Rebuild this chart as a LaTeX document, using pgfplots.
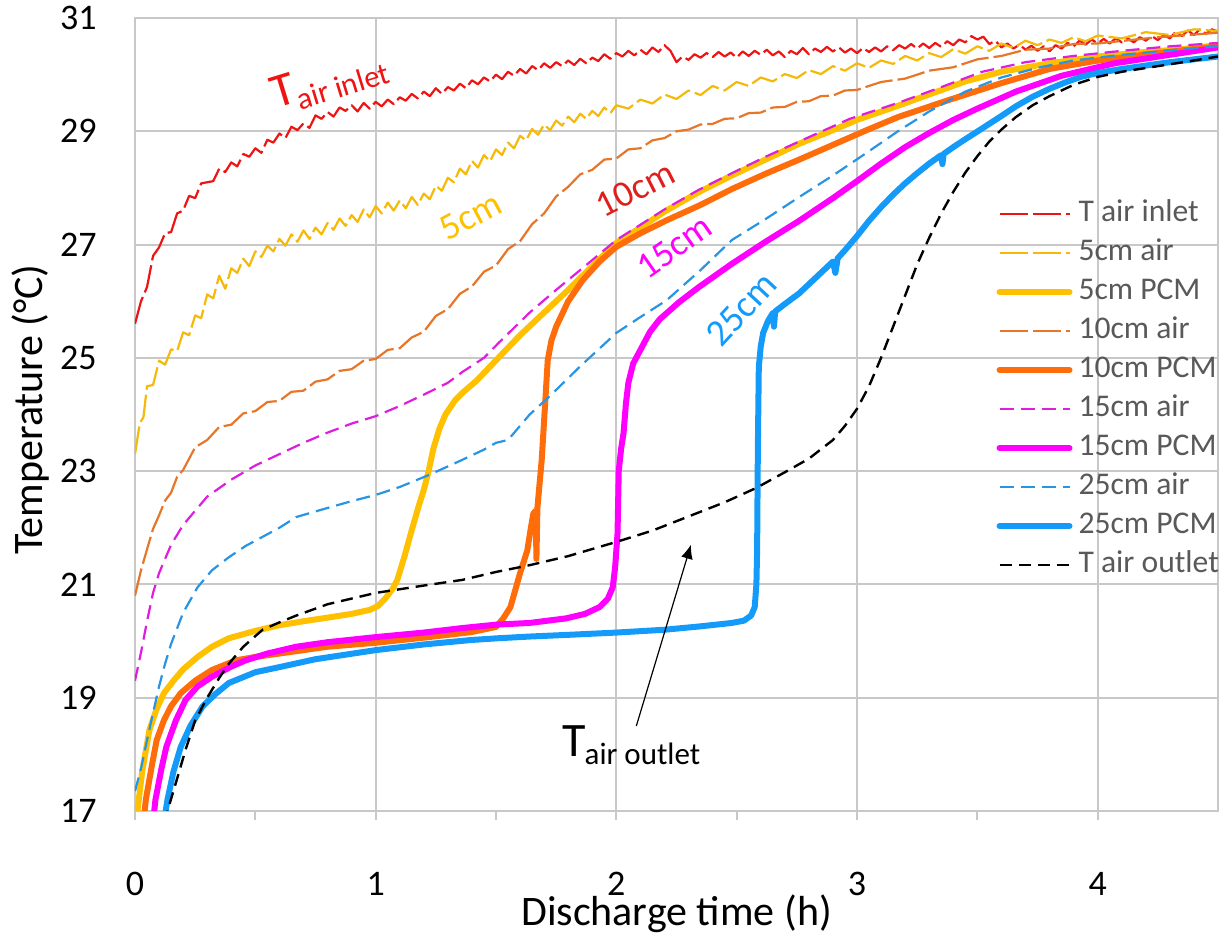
\documentclass[border=0pt]{standalone}
\usepackage{fontspec}
\setmainfont{Carlito}
\usepackage{pgfplots}
\pgfplotsset{compat=1.18}
\usetikzlibrary{arrows.meta}

\definecolor{gridgray}{RGB}{200,200,200}
\definecolor{inletred}{RGB}{238,20,20}
\definecolor{goldair}{RGB}{245,185,10}
\definecolor{goldpcm}{RGB}{255,192,0}
\definecolor{orair}{RGB}{232,118,40}
\definecolor{orpcm}{RGB}{255,108,10}
\definecolor{magair}{RGB}{222,30,222}
\definecolor{magpcm}{RGB}{255,0,255}
\definecolor{blueair}{RGB}{40,148,228}
\definecolor{bluepcm}{RGB}{20,155,250}
\definecolor{legendgray}{RGB}{89,89,89}
\definecolor{lbl10}{RGB}{224,30,28}

\begin{document}
\begin{tikzpicture}
\begin{axis}[
  name=ax,
  scale only axis,
  width=541.5pt, height=396.5pt,
  xmin=0, xmax=4.5, ymin=17, ymax=31,
  xtick={0,1,2,3,4}, minor xtick={0.5,1.5,2.5,3.5},
  ytick={17,19,...,31},
  xtick pos=bottom, ytick pos=left,
  grid=major,
  major grid style={draw=gridgray, line width=1pt},
  axis line style={draw=gridgray, line width=1pt},
  tick align=outside,
  major tick length=4.5pt, minor tick length=4.5pt,
  tick style={draw=gridgray, line width=1pt},
  ytick style={draw=none},
  /pgf/number format/assume math mode=true,
  ticklabel style={font=\fontsize{18}{20}\selectfont, text=black},
  xticklabel style={anchor=north, inner sep=0pt, yshift=-26pt},
  yticklabel style={anchor=east, inner sep=0pt, xshift=-14.5pt},
  xlabel={Discharge time (h)},
  ylabel={Temperature (°C)},
  label style={font=\fontsize{21}{24}\selectfont, text=black},
  xlabel style={at={(axis description cs:0.5,-0.130)}, anchor=center, inner sep=0pt},
  ylabel style={at={(axis description cs:-0.0965,0.506)}, anchor=center, inner sep=0pt},
  legend cell align=left,
  legend style={at={(axis description cs:0.7955,0.7705)}, anchor=north west,
    draw=none, fill=none, inner sep=0pt, outer sep=0pt,
    font=\fontsize{15.8}{16}\selectfont, text=legendgray,
    row sep=5.5pt, column sep=3pt,
    nodes={inner sep=0pt, text height=11pt, text depth=3pt}},
  legend image code/.code={\draw[#1] (0pt,0pt) -- (35pt,0pt);},
  airline/.style={line width=1.1pt, dash pattern=on 7pt off 3.5pt},
  noisyline/.style={line width=1.1pt, dash pattern=on 14pt off 2.5pt, line join=round},
  pcmline/.style={line width=3pt, line cap=round, line join=round},
]

% T air inlet
\addplot[noisyline, inletred] coordinates {
(0,25.60)(0.025,26.00)(0.05,26.25)(0.075,26.80)(0.1,26.95)(0.125,27.20)(0.15,27.22)(0.175,27.55)(0.2,27.60)(0.225,27.86)(0.25,27.82)(0.275,28.08)(0.3,28.10)(0.325,28.12)(0.35,28.34)(0.375,28.28)(0.4,28.45)(0.425,28.38)(0.45,28.60)(0.475,28.55)(0.5,28.70)(0.525,28.62)(0.55,28.85)(0.575,28.80)(0.6,28.96)(0.625,28.88)(0.65,29.08)(0.675,29.02)(0.7,29.14)(0.725,29.06)(0.75,29.28)(0.775,29.22)(0.8,29.34)(0.825,29.26)(0.85,29.42)(0.875,29.36)(0.9,29.46)(0.925,29.35)(0.95,29.50)(0.975,29.40)
(1.0,29.52)(1.025,29.44)(1.05,29.56)(1.075,29.48)(1.1,29.60)(1.125,29.54)(1.15,29.66)(1.175,29.58)(1.2,29.70)(1.225,29.62)(1.25,29.76)(1.275,29.66)(1.3,29.78)(1.325,29.72)(1.35,29.84)(1.375,29.76)(1.4,29.90)(1.425,29.83)(1.45,29.95)(1.475,29.88)(1.5,30.00)(1.525,29.92)(1.55,30.05)(1.575,29.98)(1.6,30.10)(1.625,30.02)(1.65,30.15)(1.675,30.08)(1.7,30.20)(1.725,30.12)(1.75,30.22)(1.775,30.15)(1.8,30.25)(1.825,30.17)(1.85,30.28)(1.875,30.20)(1.9,30.30)(1.925,30.24)(1.95,30.36)(1.975,30.28)
(2.0,30.38)(2.025,30.32)(2.05,30.42)(2.075,30.34)(2.1,30.44)(2.125,30.36)(2.15,30.48)(2.175,30.40)(2.2,30.52)(2.225,30.42)(2.25,30.22)(2.275,30.32)(2.3,30.26)(2.325,30.36)(2.35,30.30)(2.375,30.38)(2.4,30.31)(2.425,30.40)(2.45,30.32)(2.475,30.39)(2.5,30.30)(2.525,30.41)(2.55,30.33)(2.575,30.42)(2.6,30.35)(2.625,30.44)(2.65,30.34)(2.675,30.41)(2.7,30.31)(2.725,30.42)(2.75,30.36)(2.775,30.47)(2.8,30.36)(2.825,30.46)(2.85,30.40)(2.875,30.49)(2.9,30.41)(2.925,30.48)(2.95,30.39)(2.975,30.46)
(3.0,30.38)(3.025,30.47)(3.05,30.40)(3.075,30.48)(3.1,30.41)(3.125,30.50)(3.15,30.43)(3.175,30.52)(3.2,30.46)(3.225,30.54)(3.25,30.46)(3.275,30.55)(3.3,30.47)(3.325,30.56)(3.35,30.49)(3.375,30.59)(3.4,30.52)(3.425,30.62)(3.45,30.57)(3.475,30.68)(3.5,30.62)(3.525,30.67)(3.55,30.54)(3.575,30.60)(3.6,30.48)(3.625,30.55)(3.65,30.46)(3.675,30.53)(3.7,30.44)(3.725,30.51)(3.75,30.42)(3.775,30.50)(3.8,30.41)(3.825,30.52)(3.85,30.46)(3.875,30.56)(3.9,30.50)(3.925,30.60)(3.95,30.53)(3.975,30.62)
(4.0,30.55)(4.025,30.63)(4.05,30.55)(4.075,30.64)(4.1,30.57)(4.125,30.64)(4.15,30.57)(4.175,30.66)(4.2,30.60)(4.225,30.68)(4.25,30.61)(4.275,30.70)(4.3,30.64)(4.325,30.76)(4.35,30.68)(4.375,30.78)(4.4,30.70)(4.425,30.80)(4.45,30.72)(4.475,30.80)(4.5,30.76)
};
\addlegendentry{T air inlet}

% 5cm air
\addplot[noisyline, goldair] coordinates {
(0,23.30)(0.02,23.85)(0.035,23.95)(0.05,24.50)(0.075,24.52)(0.1,24.95)(0.125,24.88)(0.15,25.15)(0.175,25.12)(0.2,25.45)(0.225,25.40)(0.25,25.75)(0.275,25.70)(0.3,26.12)(0.325,26.05)(0.35,26.45)(0.375,26.22)(0.4,26.58)(0.425,26.50)(0.45,26.75)(0.475,26.62)(0.5,26.88)(0.525,26.78)(0.55,26.98)(0.575,26.88)(0.6,27.10)(0.625,26.98)(0.65,27.18)(0.675,27.05)(0.7,27.25)(0.725,27.10)(0.75,27.30)(0.775,27.18)(0.8,27.38)(0.825,27.26)(0.85,27.46)(0.875,27.33)(0.9,27.52)(0.925,27.40)(0.95,27.62)(0.975,27.48)
(1.0,27.68)(1.025,27.55)(1.05,27.74)(1.075,27.60)(1.1,27.78)(1.125,27.64)(1.15,27.84)(1.175,27.70)(1.2,27.90)(1.225,27.80)(1.25,28.04)(1.275,27.95)(1.3,28.18)(1.325,28.10)(1.35,28.34)(1.375,28.24)(1.4,28.48)(1.425,28.36)(1.45,28.58)(1.475,28.47)(1.5,28.68)(1.525,28.58)(1.55,28.80)(1.575,28.70)(1.6,28.92)(1.625,28.84)(1.65,29.04)(1.675,28.94)(1.7,29.12)(1.725,29.02)(1.75,29.19)(1.775,29.10)(1.8,29.26)(1.825,29.16)(1.85,29.31)(1.875,29.22)(1.9,29.36)(1.925,29.27)(1.95,29.42)(1.975,29.32)
(2.0,29.46)(2.05,29.40)(2.1,29.56)(2.15,29.49)(2.2,29.65)(2.25,29.57)(2.3,29.72)(2.35,29.64)(2.4,29.80)(2.45,29.72)(2.5,29.87)(2.55,29.80)(2.6,29.95)(2.65,29.88)(2.7,30.01)(2.75,29.94)(2.8,30.08)(2.85,30.01)(2.9,30.15)(2.95,30.07)
(3.0,30.20)(3.05,30.12)(3.1,30.25)(3.15,30.19)(3.2,30.33)(3.25,30.25)(3.3,30.38)(3.35,30.31)(3.4,30.45)(3.45,30.37)(3.5,30.50)(3.55,30.42)(3.6,30.55)(3.65,30.47)(3.7,30.60)(3.75,30.52)(3.8,30.62)(3.85,30.56)(3.9,30.66)(3.95,30.59)(4.0,30.69)(4.1,30.64)(4.2,30.75)(4.3,30.70)(4.4,30.80)(4.5,30.77)
};
\addlegendentry{5cm air}

% 5cm PCM
\addplot[pcmline, goldpcm] coordinates {
(0.005,16.8)(0.01,17.0)(0.03,17.7)(0.06,18.43)(0.09,18.8)(0.12,19.08)(0.16,19.3)(0.2,19.5)(0.26,19.72)(0.32,19.9)(0.39,20.05)(0.5,20.18)(0.6,20.28)(0.7,20.35)(0.81,20.42)(0.9,20.48)(0.975,20.55)(1.01,20.62)(1.04,20.75)(1.07,20.92)(1.09,21.08)(1.12,21.5)(1.15,21.96)(1.18,22.4)(1.2,22.67)(1.22,23.0)(1.24,23.4)(1.265,23.75)(1.29,24.0)(1.33,24.25)(1.36,24.38)(1.42,24.6)(1.51,25.0)(1.6,25.4)(1.7,25.8)(1.8,26.2)(1.9,26.62)(2.0,27.03)(2.1,27.3)(2.2,27.58)(2.34,27.92)(2.48,28.22)(2.62,28.5)(2.76,28.78)(2.9,29.02)(3.0,29.2)(3.17,29.45)(3.3,29.65)(3.45,29.88)(3.6,30.05)(3.8,30.2)(4.0,30.32)(4.2,30.4)(4.35,30.45)(4.5,30.52)
};
\addlegendentry{5cm PCM}

% 10cm air
\addplot[noisyline, orair] coordinates {
(0,20.80)(0.025,21.25)(0.05,21.62)(0.075,21.98)(0.1,22.22)(0.125,22.48)(0.15,22.62)(0.175,22.90)(0.2,23.02)(0.25,23.42)(0.3,23.55)(0.35,23.78)(0.4,23.82)(0.45,24.02)(0.5,24.06)(0.55,24.22)(0.6,24.24)(0.65,24.40)(0.7,24.42)(0.75,24.58)(0.8,24.62)(0.85,24.77)(0.9,24.80)(0.95,24.95)(1.0,24.98)(1.05,25.14)(1.1,25.17)(1.15,25.36)(1.2,25.46)(1.25,25.74)(1.3,25.86)(1.35,26.13)(1.4,26.26)(1.45,26.52)(1.5,26.63)(1.55,26.92)(1.6,27.06)(1.65,27.36)(1.7,27.55)(1.75,27.85)(1.8,28.02)(1.85,28.24)(1.9,28.32)(1.95,28.50)(2.0,28.52)(2.05,28.68)(2.1,28.70)(2.15,28.84)(2.2,28.88)(2.25,29.00)(2.3,29.03)(2.35,29.12)(2.4,29.13)(2.45,29.22)(2.5,29.23)(2.55,29.32)(2.6,29.33)(2.65,29.42)(2.7,29.43)(2.75,29.52)(2.8,29.53)(2.85,29.62)(2.9,29.63)(2.95,29.72)(3.0,29.73)(3.1,29.87)(3.2,29.93)(3.3,30.07)(3.4,30.13)(3.5,30.27)(3.6,30.33)(3.7,30.44)(3.8,30.46)(3.9,30.54)(4.0,30.55)(4.25,30.66)(4.5,30.74)
};
\addlegendentry{10cm air}

% 10cm PCM
\addplot[pcmline, orpcm] coordinates {
(0.035,16.8)(0.045,17.2)(0.07,17.8)(0.09,18.25)(0.12,18.6)(0.15,18.85)(0.19,19.08)(0.25,19.3)(0.32,19.49)(0.42,19.66)(0.5,19.72)(0.6,19.78)(0.7,19.84)(0.8,19.9)(1.0,19.97)(1.2,20.06)(1.4,20.16)(1.5,20.25)(1.53,20.4)(1.56,20.6)(1.58,20.9)(1.6,21.2)(1.63,21.6)(1.645,22.0)(1.655,22.25)(1.665,22.3)(1.668,21.45)(1.672,22.35)(1.69,23.2)(1.705,24.25)(1.715,24.96)(1.73,25.3)(1.75,25.55)(1.8,26.0)(1.86,26.37)(1.93,26.7)(2.0,26.96)(2.1,27.2)(2.21,27.43)(2.35,27.7)(2.48,27.98)(2.62,28.25)(2.76,28.5)(2.9,28.76)(3.04,29.02)(3.17,29.25)(3.38,29.55)(3.6,29.85)(3.8,30.1)(4.0,30.25)(4.25,30.38)(4.5,30.5)
};
\addlegendentry{10cm PCM}

% 15cm air
\addplot[airline, magair] coordinates {
(0,19.3)(0.025,19.8)(0.05,20.35)(0.075,20.85)(0.1,21.2)(0.15,21.7)(0.2,22.05)(0.25,22.3)(0.3,22.55)(0.4,22.85)(0.5,23.1)(0.6,23.3)(0.7,23.5)(0.8,23.68)(0.9,23.84)(1.0,23.97)(1.1,24.15)(1.2,24.35)(1.3,24.56)(1.36,24.75)(1.45,25.0)(1.51,25.26)(1.64,25.8)(1.75,26.2)(1.85,26.55)(2.0,27.08)(2.2,27.62)(2.34,27.96)(2.48,28.26)(2.62,28.55)(2.76,28.82)(2.97,29.22)(3.17,29.5)(3.35,29.78)(3.52,30.05)(3.7,30.22)(3.9,30.33)(4.1,30.42)(4.3,30.5)(4.5,30.56)
};
\addlegendentry{15cm air}

% 15cm PCM
\addplot[pcmline, magpcm] coordinates {
(0.075,16.8)(0.085,17.2)(0.11,17.75)(0.13,18.13)(0.17,18.6)(0.21,18.96)(0.26,19.2)(0.32,19.37)(0.4,19.55)(0.46,19.66)(0.55,19.78)(0.67,19.9)(0.8,19.98)(1.0,20.07)(1.2,20.15)(1.36,20.23)(1.5,20.29)(1.64,20.32)(1.79,20.4)(1.87,20.48)(1.93,20.6)(1.965,20.75)(1.985,20.95)(1.995,21.3)(2.0,21.6)(2.005,21.9)(2.01,23.0)(2.02,23.4)(2.03,23.67)(2.04,24.2)(2.05,24.56)(2.07,24.9)(2.1,25.14)(2.14,25.46)(2.18,25.68)(2.26,25.98)(2.34,26.24)(2.48,26.66)(2.62,27.05)(2.76,27.42)(2.9,27.82)(3.0,28.12)(3.1,28.43)(3.2,28.72)(3.3,28.97)(3.4,29.2)(3.5,29.4)(3.66,29.7)(3.85,29.98)(4.07,30.2)(4.3,30.35)(4.5,30.48)
};
\addlegendentry{15cm PCM}

% 25cm air
\addplot[airline, blueair] coordinates {
(0,17.35)(0.025,17.75)(0.05,18.25)(0.075,18.73)(0.1,19.2)(0.125,19.6)(0.15,19.95)(0.2,20.5)(0.26,20.95)(0.32,21.25)(0.39,21.48)(0.46,21.68)(0.53,21.84)(0.6,22.0)(0.67,22.19)(0.8,22.35)(0.9,22.47)(1.0,22.58)(1.1,22.72)(1.22,22.93)(1.35,23.18)(1.45,23.38)(1.5,23.5)(1.55,23.55)(1.64,24.0)(1.72,24.31)(1.85,24.85)(2.0,25.44)(2.1,25.72)(2.21,26.02)(2.35,26.55)(2.48,27.08)(2.62,27.45)(2.76,27.84)(2.9,28.22)(3.04,28.62)(3.17,29.0)(3.3,29.35)(3.45,29.7)(3.6,29.95)(3.75,30.12)(3.9,30.25)(4.1,30.35)(4.3,30.43)(4.5,30.5)
};
\addlegendentry{25cm air}

% 25cm PCM
\addplot[pcmline, bluepcm] coordinates {
(0.12,16.8)(0.135,17.2)(0.16,17.7)(0.19,18.13)(0.23,18.5)(0.28,18.84)(0.33,19.05)(0.39,19.26)(0.5,19.45)(0.6,19.54)(0.75,19.68)(1.0,19.84)(1.2,19.94)(1.4,20.02)(1.51,20.05)(1.64,20.08)(1.8,20.11)(2.0,20.15)(2.2,20.2)(2.35,20.26)(2.48,20.32)(2.53,20.36)(2.56,20.45)(2.575,20.6)(2.582,21.0)(2.585,21.6)(2.588,23.37)(2.592,24.84)(2.6,25.2)(2.61,25.44)(2.63,25.65)(2.65,25.79)(2.655,25.55)(2.66,25.82)(2.7,25.95)(2.76,26.14)(2.83,26.42)(2.9,26.7)(2.91,26.5)(2.92,26.76)(2.95,26.9)(3.0,27.15)(3.05,27.42)(3.1,27.66)(3.15,27.88)(3.2,28.08)(3.25,28.26)(3.3,28.43)(3.35,28.58)(3.355,28.42)(3.36,28.6)(3.4,28.72)(3.45,28.86)(3.52,29.05)(3.6,29.27)(3.66,29.44)(3.73,29.61)(3.8,29.75)(3.87,29.87)(3.93,29.96)(4.0,30.03)(4.1,30.1)(4.3,30.22)(4.5,30.32)
};
\addlegendentry{25cm PCM}

% T air outlet
\addplot[line width=1.2pt, black, dash pattern=on 6pt off 3.5pt] coordinates {
(0.125,16.8)(0.135,17.0)(0.17,17.5)(0.21,18.08)(0.25,18.6)(0.3,19.0)(0.35,19.35)(0.39,19.6)(0.45,19.9)(0.53,20.2)(0.6,20.33)(0.67,20.45)(0.8,20.65)(1.0,20.85)(1.2,20.98)(1.36,21.08)(1.5,21.22)(1.64,21.34)(1.8,21.5)(2.0,21.75)(2.15,21.95)(2.3,22.2)(2.45,22.45)(2.58,22.7)(2.7,22.98)(2.8,23.22)(2.9,23.55)(2.95,23.8)(3.0,24.1)(3.05,24.5)(3.1,25.0)(3.15,25.55)(3.2,26.1)(3.25,26.65)(3.3,27.12)(3.35,27.55)(3.4,27.93)(3.45,28.27)(3.5,28.56)(3.55,28.82)(3.6,29.03)(3.66,29.25)(3.73,29.46)(3.8,29.62)(3.9,29.82)(4.0,29.96)(4.1,30.05)(4.25,30.15)(4.4,30.25)(4.5,30.32)
};
\addlegendentry{T air outlet}

% annotations
\node[rotate=17, text=inletred, inner sep=0pt] at (axis cs:0.809,29.89)
  {\fontsize{24}{24}\selectfont T\kern-0.5pt\raisebox{-4pt}{\fontsize{15.5}{16}\selectfont air inlet}};
\node[rotate=28, text=goldpcm, inner sep=0pt] at (axis cs:1.394,27.50)
  {\fontsize{18.5}{19}\selectfont 5cm};
\node[rotate=27, text=lbl10, inner sep=0pt] at (axis cs:2.079,27.98)
  {\fontsize{18.5}{19}\selectfont 10cm};
\node[rotate=35, text=magpcm, inner sep=0pt] at (axis cs:2.241,26.96)
  {\fontsize{18.5}{19}\selectfont 15cm};
\node[rotate=47, text=bluepcm, inner sep=0pt] at (axis cs:2.519,25.86)
  {\fontsize{19}{19}\selectfont 25cm};
\node[text=black, inner sep=0pt] at (axis cs:2.062,18.16)
  {\fontsize{24}{24}\selectfont T\kern-0.5pt\raisebox{-4pt}{\fontsize{15.5}{16}\selectfont air outlet}};
\draw[-{Latex[length=7pt,width=6pt]}, line width=0.6pt, black]
  (axis cs:2.083,18.50) -- (axis cs:2.31,21.70);
\end{axis}
\pgfresetboundingbox
\path[use as bounding box] ([xshift=-67.5pt,yshift=-62.5pt]ax.south west) rectangle ([xshift=1pt,yshift=9pt]ax.north east);
\end{tikzpicture}
\end{document}
